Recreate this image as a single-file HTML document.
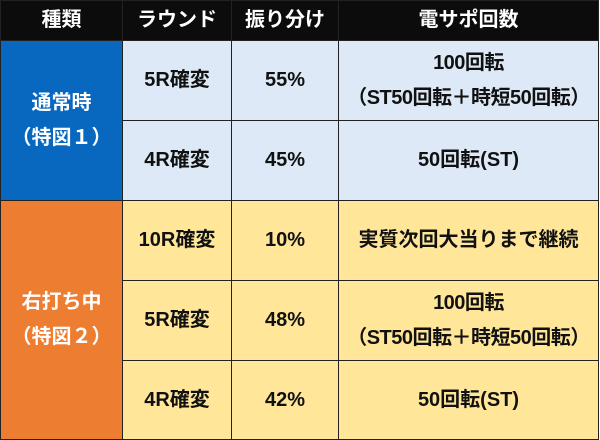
<!DOCTYPE html><html><head><meta charset="utf-8"><style>
body{margin:0;width:600px;height:440px;background:#fff;font-family:"Liberation Sans","Noto Sans CJK JP",sans-serif;font-weight:bold;}
.c{position:absolute;box-sizing:border-box;border:1px solid #222;display:flex;align-items:center;justify-content:center;text-align:center;font-size:20px;line-height:35px;color:#111;white-space:nowrap;}
.h{background:#0c0c0c;color:#fff;}
.b{background:#0868c0;color:#fff;}
.o{background:#ed7d31;color:#fff;}
.lb{background:#dde9f7;}
.y{background:#ffe699;}
</style></head><body>
<div class="c h" style="left:0;top:0;width:123px;height:41px">種類</div>
<div class="c h" style="left:122px;top:0;width:110px;height:41px">ラウンド</div>
<div class="c h" style="left:231px;top:0;width:108px;height:41px">振り分け</div>
<div class="c h" style="left:338px;top:0;width:261px;height:41px">電サポ回数</div>

<div class="c b" style="left:0;top:40px;width:123px;height:161px">通常時<br>（特図１）</div>
<div class="c lb" style="left:122px;top:40px;width:110px;height:81px">5R確変</div>
<div class="c lb" style="left:231px;top:40px;width:108px;height:81px">55%</div>
<div class="c lb" style="left:338px;top:40px;width:261px;height:81px;letter-spacing:-0.5px">100回転<br>（ST50回転＋時短50回転）</div>
<div class="c lb" style="left:122px;top:120px;width:110px;height:81px">4R確変</div>
<div class="c lb" style="left:231px;top:120px;width:108px;height:81px">45%</div>
<div class="c lb" style="left:338px;top:120px;width:261px;height:81px">50回転(ST)</div>

<div class="c o" style="left:0;top:200px;width:123px;height:240px">右打ち中<br>（特図２）</div>
<div class="c y" style="left:122px;top:200px;width:110px;height:81px">10R確変</div>
<div class="c y" style="left:231px;top:200px;width:108px;height:81px">10%</div>
<div class="c y" style="left:338px;top:200px;width:261px;height:81px">実質次回大当りまで継続</div>
<div class="c y" style="left:122px;top:280px;width:110px;height:81px">5R確変</div>
<div class="c y" style="left:231px;top:280px;width:108px;height:81px">48%</div>
<div class="c y" style="left:338px;top:280px;width:261px;height:81px;letter-spacing:-0.5px">100回転<br>（ST50回転＋時短50回転）</div>
<div class="c y" style="left:122px;top:360px;width:110px;height:80px">4R確変</div>
<div class="c y" style="left:231px;top:360px;width:108px;height:80px">42%</div>
<div class="c y" style="left:338px;top:360px;width:261px;height:80px">50回転(ST)</div>
</body></html>
